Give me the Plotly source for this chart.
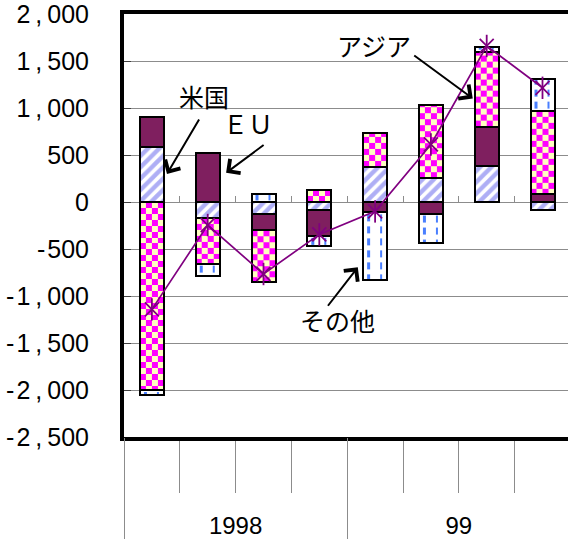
import numpy as np
import plotly.graph_objects as go

# Quarterly contributions by region (8 quarters: 1998 Q1-Q4, 1999 Q1-Q4)
years = ["1998", "99"]
quarters_per_year = 4
us = [584, -169, -123, -80, 375, 253, 378, -88]
eu = [317, 524, -177, -280, -110, -123, 424, 82]
asia = [-2000, -486, -548, 125, 360, 777, 798, 888]
other = [-50, -131, 81, -110, -720, -316, 53, 343]
total = [-1142, -245, -766, -345, -100, 612, 1660, 1215]

y_ticks = list(range(-2500, 2001, 500))

n = len(us)
xs = np.arange(n)
BAR_W = 0.43
X_RANGE = [-0.5, 7.457]
Y_RANGE = [-2500, 2000]

EU_COLOR = "#7F1F5F"
US_FG = "#5E5EEC"
MAGENTA = "#FF00FF"
PALE_YELLOW = "#FFFFC0"
DASH_BLUE = "#4A7FFF"
LINE_COLOR = "#800080"
GRID = "#8C8C8C"
THIN = "\u2009"
HAIR = "\u200a"


def tick_text(v):
    """Thousands-separated label with a little air round the comma and sign."""
    s = f"{abs(v):,}".replace(",", THIN + "," + THIN)
    return ("-" + HAIR + s) if v < 0 else s


# stacking bases the same way barmode="relative" does
series = [us, eu, asia, other]
bases = []
pos = np.zeros(n)
neg = np.zeros(n)
for s in series:
    b = []
    for i, v in enumerate(s):
        if v >= 0:
            b.append(pos[i]); pos[i] += v
        else:
            b.append(neg[i]); neg[i] += v
    bases.append(b)

fig = go.Figure()

outline = dict(color="black", width=2)


def segment_edges(base, value, step):
    """Row edges running from the base outwards, last row clipped."""
    sign = 1 if value >= 0 else -1
    k = np.arange(0, abs(value), step)
    e = list(base + sign * k) + [base + value]
    return np.array(sorted(e))


# checkerboard fill for Asia segments
for i in range(n):
    v = asia[i]
    if v == 0:
        continue
    c = xs[i]
    xe = np.linspace(c - BAR_W / 2, c + BAR_W / 2, 5)
    ye = segment_edges(bases[2][i], v, 63)
    z = [[(r + col) % 2 for col in range(4)] for r in range(len(ye) - 1)]
    fig.add_trace(go.Heatmap(
        x=xe, y=ye, z=z, zmin=0, zmax=1, showscale=False, hoverinfo="skip",
        colorscale=[[0, MAGENTA], [1, PALE_YELLOW]],
    ))

# dashed vertical lines for "other" segments
for i in range(n):
    v = other[i]
    if v == 0:
        continue
    c = xs[i]
    xe = [c - BAR_W / 2, c - 0.135, c - 0.09, c + 0.085, c + 0.13, c + BAR_W / 2]
    base = bases[3][i]
    sign = 1 if v >= 0 else -1
    dash, gap = 74, 53
    t = min(20, abs(v))
    edges = [base, base + sign * t]
    flags = [0]
    on = False
    while t < abs(v):
        seg = dash if not on else gap
        on = not on
        t2 = min(t + seg, abs(v))
        edges.append(base + sign * t2)
        flags.append(1 if on else 0)
        t = t2
    ye = np.sort(np.array(edges))
    rows = flags if sign > 0 else flags[::-1]
    z = [[0, f, 0, f, 0] for f in rows]
    fig.add_trace(go.Heatmap(
        x=xe, y=ye, z=z, zmin=0, zmax=1, showscale=False, hoverinfo="skip",
        colorscale=[[0, "white"], [1, DASH_BLUE]],
    ))

fig.add_trace(go.Bar(
    x=xs, y=us, name="米国", width=BAR_W,
    marker=dict(color="white", line=outline,
                pattern=dict(shape="/", fgcolor=US_FG, bgcolor="white",
                             size=8, solidity=0.55)),
))
fig.add_trace(go.Bar(x=xs, y=eu, name="ＥＵ", width=BAR_W,
                     marker=dict(color=EU_COLOR, line=outline)))
fig.add_trace(go.Bar(x=xs, y=asia, name="アジア", width=BAR_W,
                     marker=dict(color="rgba(0,0,0,0)", line=outline)))
fig.add_trace(go.Bar(x=xs, y=other, name="その他", width=BAR_W,
                     marker=dict(color="rgba(0,0,0,0)", line=outline)))

# total balance line with star markers
fig.add_trace(go.Scatter(x=xs, y=total, mode="lines", xaxis="x2",
                         line=dict(color=LINE_COLOR, width=1.7), hoverinfo="skip"))
fig.add_trace(go.Scatter(x=xs, y=total, mode="markers", xaxis="x3",
                         marker=dict(symbol="x-thin-open", size=14, color=LINE_COLOR,
                                     line=dict(color=LINE_COLOR, width=1.8))))
fig.add_trace(go.Scatter(x=xs, y=total, mode="markers", xaxis="x3",
                         marker=dict(symbol="line-ns-open", size=16, color=LINE_COLOR,
                                     line=dict(color=LINE_COLOR, width=1.8))))

boundaries = [k - 0.5 for k in range(n + 1)]
group_bounds = [k * quarters_per_year - 0.5 for k in range(len(years) + 1)]
group_centers = [k * quarters_per_year + (quarters_per_year - 1) / 2 for k in range(len(years))]

label_font = dict(family="Noto Sans CJK JP", size=25, color="black")
annotations = []
for text, tx, ty in [("米国", 0.93, 1133), ("ＥＵ", 1.72, 838),
                     ("アジア", 3.98, 1668), ("その他", 3.32, -1260)]:
    annotations.append(dict(x=tx, y=ty, xref="x", yref="y", text=text,
                            showarrow=False, font=label_font))
for tx, ty, ax, ay in [(0.27, 299, 33, -56), (1.33, 310, 39, -29),
                       (5.75, 1102, -60, -44), (3.69, -694, -31, 40)]:
    annotations.append(dict(x=tx, y=ty, xref="x", yref="y", text="",
                            showarrow=True, ax=ax, ay=ay, arrowhead=4,
                            arrowsize=1.7, arrowwidth=2, arrowcolor="black"))

fig.update_layout(
    width=568, height=539,
    margin=dict(l=124, r=0, t=12, b=101),
    paper_bgcolor="white", plot_bgcolor="white",
    barmode="relative", bargap=0, showlegend=False,
    font=dict(family="Liberation Sans", size=24, color="black"),
    annotations=annotations,
    xaxis=dict(
        range=X_RANGE, showgrid=False, zeroline=False,
        showline=True, linecolor="black", linewidth=4, mirror=True,
        tickmode="array", tickvals=group_centers, ticktext=years,
        ticks="", ticklabelstandoff=64,
        tickfont=dict(family="Liberation Sans", size=24, color="black"),
        minor=dict(tickmode="array", tickvals=boundaries, ticks="outside",
                   ticklen=52, tickcolor=GRID, tickwidth=1, showgrid=False),
    ),
    xaxis2=dict(
        range=X_RANGE, overlaying="x", anchor="y", side="bottom",
        showgrid=False, zeroline=False, showline=False, showticklabels=False,
        tickmode="array", tickvals=group_bounds, ticks="outside",
        ticklen=101, tickcolor=GRID, tickwidth=1,
    ),
    xaxis3=dict(
        range=X_RANGE, overlaying="x", anchor="free",
        position=(0 - Y_RANGE[0]) / (Y_RANGE[1] - Y_RANGE[0]), side="bottom",
        showgrid=False, zeroline=False, showline=False, showticklabels=False,
        tickmode="array", tickvals=boundaries, ticks="inside",
        ticklen=6, tickcolor=GRID, tickwidth=1,
    ),
    yaxis=dict(
        range=Y_RANGE, showgrid=True, gridcolor=GRID, gridwidth=1,
        zeroline=True, zerolinecolor=GRID, zerolinewidth=1,
        showline=True, linecolor="black", linewidth=4,
        tickmode="array", tickvals=y_ticks,
        ticktext=[tick_text(v) for v in y_ticks],
        ticks="inside", ticklen=7, tickcolor="#404040", tickwidth=1,
        ticklabelstandoff=26, ticklabeloverflow="allow",
        tickfont=dict(family="Liberation Sans", size=25, color="black"),
    ),
)

fig.write_html("out.html")
